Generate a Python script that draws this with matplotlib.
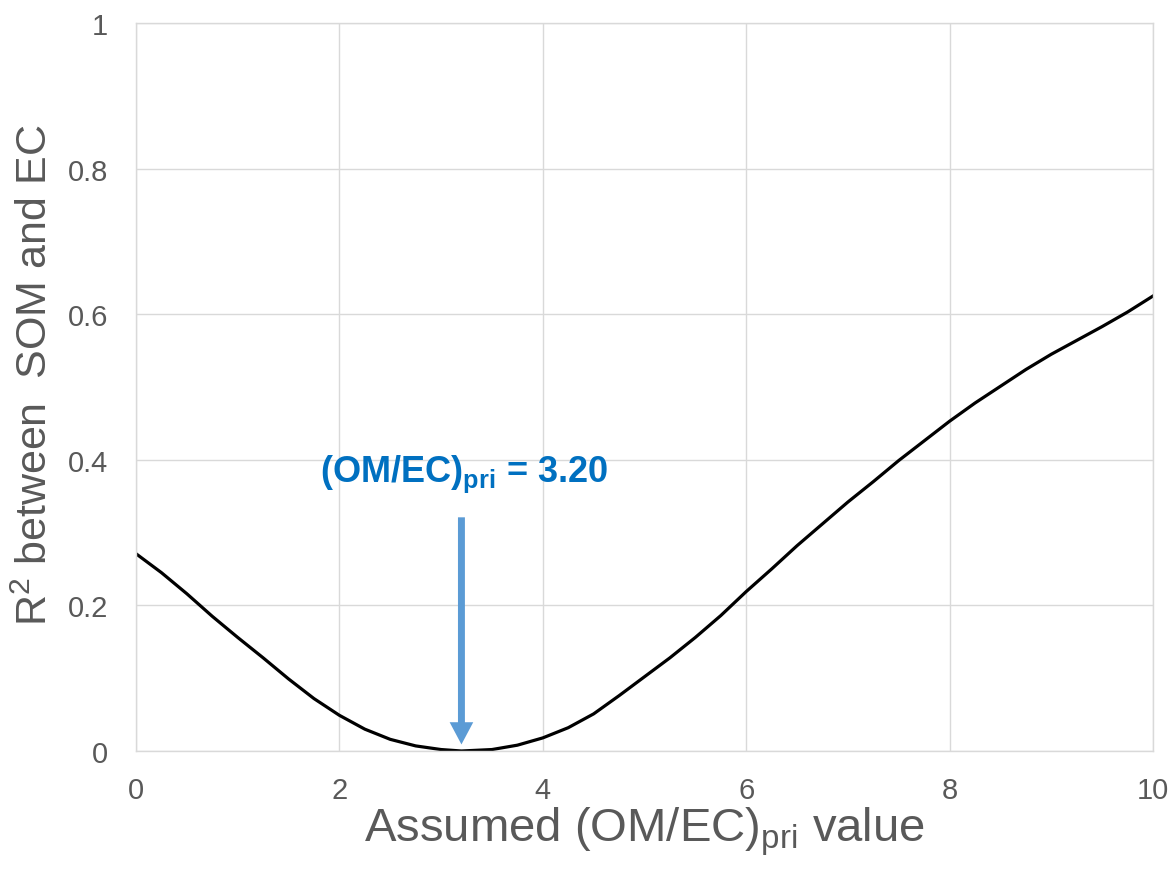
import matplotlib.pyplot as plt

plt.rcParams['font.family'] = ['Liberation Sans', 'DejaVu Sans']
plt.rcParams['mathtext.fontset'] = 'custom'
plt.rcParams['mathtext.rm'] = 'Liberation Sans'
plt.rcParams['mathtext.bf'] = 'Liberation Sans:bold'

# curve, every 0.25
om_ec = [0.0, 0.25, 0.5, 0.75, 1.0, 1.25, 1.5, 1.75, 2.0, 2.25, 2.5, 2.75, 3.0, 3.2,
         3.5, 3.75, 4.0, 4.25, 4.5, 4.75, 5.0, 5.25, 5.5, 5.75, 6.0, 6.25, 6.5, 6.75,
         7.0, 7.25, 7.5, 7.75, 8.0, 8.25, 8.5, 8.75, 9.0, 9.25, 9.5, 9.75, 10.0]
r2 = [0.271, 0.245, 0.216, 0.185, 0.156, 0.128, 0.099, 0.072, 0.049, 0.030, 0.016, 0.007, 0.002, 0.000,
      0.002, 0.008, 0.018, 0.032, 0.051, 0.076, 0.102, 0.128, 0.156, 0.186, 0.219, 0.250, 0.282, 0.312,
      0.342, 0.370, 0.399, 0.426, 0.453, 0.478, 0.501, 0.524, 0.545, 0.564, 0.583, 0.603, 0.625]

best = 3.20
arrow_top = 0.321
arrow_tip = 0.009

grey = '#595959'

fig = plt.figure(figsize=(11.76, 8.78), dpi=100)
ax = fig.add_axes([136 / 1176, 126 / 878, 1017 / 1176, 728 / 878])

ax.plot(om_ec, r2, color='black', lw=2.3, solid_joinstyle='round')

ax.annotate('', xy=(best, arrow_tip), xytext=(best, arrow_top),
            arrowprops=dict(arrowstyle='simple,head_length=1.6,head_width=1.7,tail_width=0.5',
                            mutation_scale=10, color='#5B9BD5', lw=0,
                            shrinkA=0, shrinkB=0))
ax.text(best + 0.03, 0.371, r'(OM/EC)$_{\mathbf{pri}}$ = 3.20', color='#0070C0',
        fontsize=26, fontweight='bold', ha='center', va='baseline')

ax.set_xlim(0, 10)
ax.set_ylim(0, 1)
ax.set_xticks([0, 2, 4, 6, 8, 10])
ax.set_yticks([0, 0.2, 0.4, 0.6, 0.8, 1])
ax.set_yticklabels(['0', '0.2', '0.4', '0.6', '0.8', '1'])
ax.tick_params(length=0, labelsize=21, labelcolor=grey)
ax.tick_params(axis='x', pad=18)
ax.tick_params(axis='y', pad=20)

ax.grid(True, color='#d9d9d9', lw=1.0)
ax.set_axisbelow(True)
for s in ax.spines.values():
    s.set_color('#d9d9d9')
    s.set_linewidth(1.0)

ax.set_xlabel(r'Assumed (OM/EC)$_{\mathrm{pri}}$ value', fontsize=34, color=grey)
ax.set_ylabel(r'R$^{\mathrm{2}}$ between  SOM and EC', fontsize=31, color=grey)
ax.xaxis.set_label_coords(0.5, -0.074)
ax.yaxis.set_label_coords(-0.079, 0.518)

fig.savefig('out.png', dpi=100)
